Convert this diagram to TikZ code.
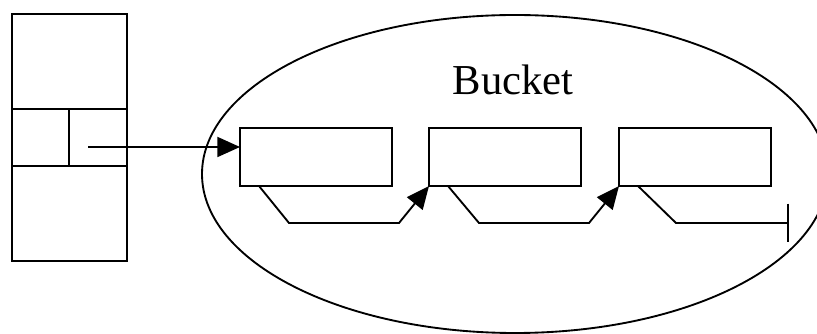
\documentclass[tikz,border=0pt]{standalone}
\usepackage{fontspec}
\setmainfont{Liberation Serif}
\usetikzlibrary{arrows.meta,shapes.geometric}
\begin{document}
\begin{tikzpicture}[x=0.75pt,y=-0.75pt,line width=1.4pt,
  cell/.style={draw,rectangle,inner sep=0pt,outer sep=0pt,anchor=north west},
  rec/.style={draw,rectangle,inner sep=0pt,outer sep=0pt,minimum width=114pt,minimum height=43.5pt,anchor=north west},
  link/.style={-{Triangle[length=17pt,width=15pt]}},
  nil/.style={-{Bar[width=29pt]}},
  bucketshape/.style={draw,ellipse,inner sep=0pt,minimum width=469.5pt,minimum height=238.5pt}]
\useasboundingbox (0,0) rectangle (817,334);
\clip (0,0) rectangle (817,334);
% array
\node[cell,minimum width=86.25pt,minimum height=71.25pt] (top) at (12,14) {};
\node[cell,minimum width=42.75pt,minimum height=42.75pt] (cl) at (12,109) {};
\node[cell,minimum width=43.5pt,minimum height=42.75pt] (cr) at (69,109) {};
\node[cell,minimum width=86.25pt,minimum height=71.25pt] (bot) at (12,166) {};
% bucket
\node[bucketshape] (bucket) at (515,174) {};
\node[anchor=base,inner sep=0pt,font=\fontsize{32}{38}\selectfont] (lbl) at (513,95) {Bucket};
% boxes
\node[rec] (b1) at (240,128) {};
\node[rec] (b2) at (429,128) {};
\node[rec] (b3) at (619,128) {};
% pointer from array
\coordinate (p) at (88,147);
\draw[link] (p) -- (p -| b1.west);
% links
\draw[link] (b1.south west) ++(19,0) -- ++(30,37) -- ++(110,0) -- (b2.south west);
\draw[link] (b2.south west) ++(19,0) -- ++(31,37) -- ++(110,0) -- (b3.south west);
\draw[nil] (b3.south west) ++(19,0) -- ++(38,37) -- ++(113,0);
\end{tikzpicture}
\end{document}
